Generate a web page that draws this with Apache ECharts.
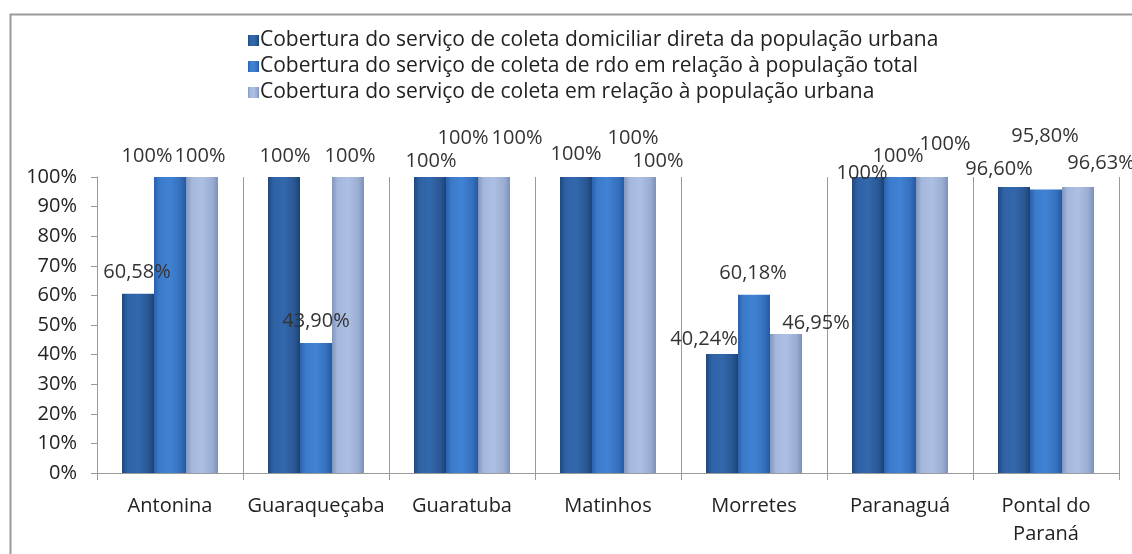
<!DOCTYPE html>
<html>
<head>
<meta charset="utf-8">
<script src="https://cdn.jsdelivr.net/npm/echarts@6/dist/echarts.min.js"></script>
<style>
  html, body { margin: 0; padding: 0; background: #fff; }
  #chart { width: 1132px; height: 554px; }
</style>
</head>
<body>
<div id="chart"></div>
<script>
// Municipalities of the coast of Paraná
const categories = ['Antonina', 'Guaraqueçaba', 'Guaratuba', 'Matinhos', 'Morretes', 'Paranaguá', 'Pontal do\nParaná'];

const seriesNames = [
  'Cobertura do serviço de coleta domiciliar direta da população urbana',
  'Cobertura do serviço de coleta de rdo em relação à população total',
  'Cobertura do serviço de coleta em relação à população urbana'
];

// Coverage, percent
const coletaDomiciliarUrbana = [60.58, 100, 100, 100, 40.24, 100, 96.60];
const coletaRdoTotal = [100, 43.90, 100, 100, 60.18, 100, 95.80];
const coletaUrbana = [100, 100, 100, 100, 46.95, 100, 96.63];

const yTicks = [0, 10, 20, 30, 40, 50, 60, 70, 80, 90, 100];

// Hand-placed label nudges [dx, dy] per series and municipality
const labelNudge = [
  [[-1, -11], [1, -11], [1, -6], [0, -13], [-18, -5], [-6, 6], [-15, -8]],
  [[-23, -11], [0, -12], [1, -29], [25, -29], [-1, -12], [-2, -11], [-1, -43]],
  [[-2, -11], [2, -11], [23, -29], [18, -6], [30, -1], [13, -23], [23, -14]]
];

// Bevelled bar fills: darker edges, lighter centre
const fills = [
  ['#1F497F', '#2F62A5', '#3368AD', '#2A5894', '#1C4274'],
  ['#2A62AE', '#3C7BCC', '#4182D4', '#3570BE', '#265AA2'],
  ['#8295BB', '#A4B7DC', '#ADBFE2', '#9AADD2', '#7D90B6']
];

function bevel(c) {
  return {
    type: 'linear', x: 0, y: 0, x2: 1, y2: 0,
    colorStops: [
      { offset: 0, color: c[0] },
      { offset: 0.18, color: c[1] },
      { offset: 0.5, color: c[2] },
      { offset: 0.82, color: c[3] },
      { offset: 1, color: c[4] }
    ]
  };
}

function fmt(v) {
  return Number.isInteger(v) ? v + '%' : v.toFixed(2).replace('.', ',') + '%';
}

const FONT = '"Open Sans", "Noto Sans", sans-serif';

const allData = [coletaDomiciliarUrbana, coletaRdoTotal, coletaUrbana];

const series = allData.map((vals, s) => ({
  name: seriesNames[s],
  type: 'bar',
  barWidth: 32,
  barGap: '0%',
  itemStyle: { color: bevel(fills[s]) },
  data: vals.map((v, i) => ({
    value: v,
    label: { offset: labelNudge[s][i] }
  })),
  label: {
    show: true,
    position: 'top',
    distance: 0,
    fontFamily: FONT,
    fontSize: 20,
    color: '#333',
    formatter: p => fmt(p.value)
  }
}));

const chart = echarts.init(document.getElementById('chart'), null, { renderer: 'canvas' });
chart.setOption({
  animation: false,
  backgroundColor: '#fff',
  textStyle: { fontFamily: FONT },
  color: fills.map(c => c[2]),
  graphic: [{
    type: 'rect',
    left: 8, top: 12,
    shape: { width: 1140, height: 560 },
    style: { fill: 'none', stroke: '#9a9a9a', lineWidth: 2 },
    silent: true
  }],
  legend: {
    orient: 'vertical',
    left: 243,
    top: 25,
    itemWidth: 11,
    itemHeight: 11,
    itemGap: 5,
    icon: 'rect',
    textStyle: { fontFamily: FONT, fontSize: 21, color: '#222', padding: [0, 0, 0, -4] },
    data: seriesNames
  },
  grid: { left: 97, right: 13, top: 177, bottom: 81, containLabel: false },
  xAxis: {
    type: 'category',
    data: categories,
    axisLine: { lineStyle: { color: '#9a9a9a', width: 1 } },
    axisTick: { show: true, length: 7, lineStyle: { color: '#9a9a9a' } },
    splitLine: { show: true, lineStyle: { color: '#9a9a9a', width: 1 } },
    axisLabel: { fontFamily: FONT, fontSize: 20, color: '#222', margin: 19, lineHeight: 28, interval: 0 }
  },
  yAxis: {
    type: 'value',
    min: 0,
    max: 100,
    interval: 10,
    axisLine: { show: true, lineStyle: { color: '#9a9a9a' } },
    axisTick: { show: true, length: 6, lineStyle: { color: '#9a9a9a' } },
    splitLine: { show: false },
    axisLabel: {
      fontFamily: FONT, fontSize: 20, color: '#222', margin: 20,
      formatter: v => (yTicks.includes(v) ? v + '%' : '')
    }
  },
  series: series
});
</script>
</body>
</html>
